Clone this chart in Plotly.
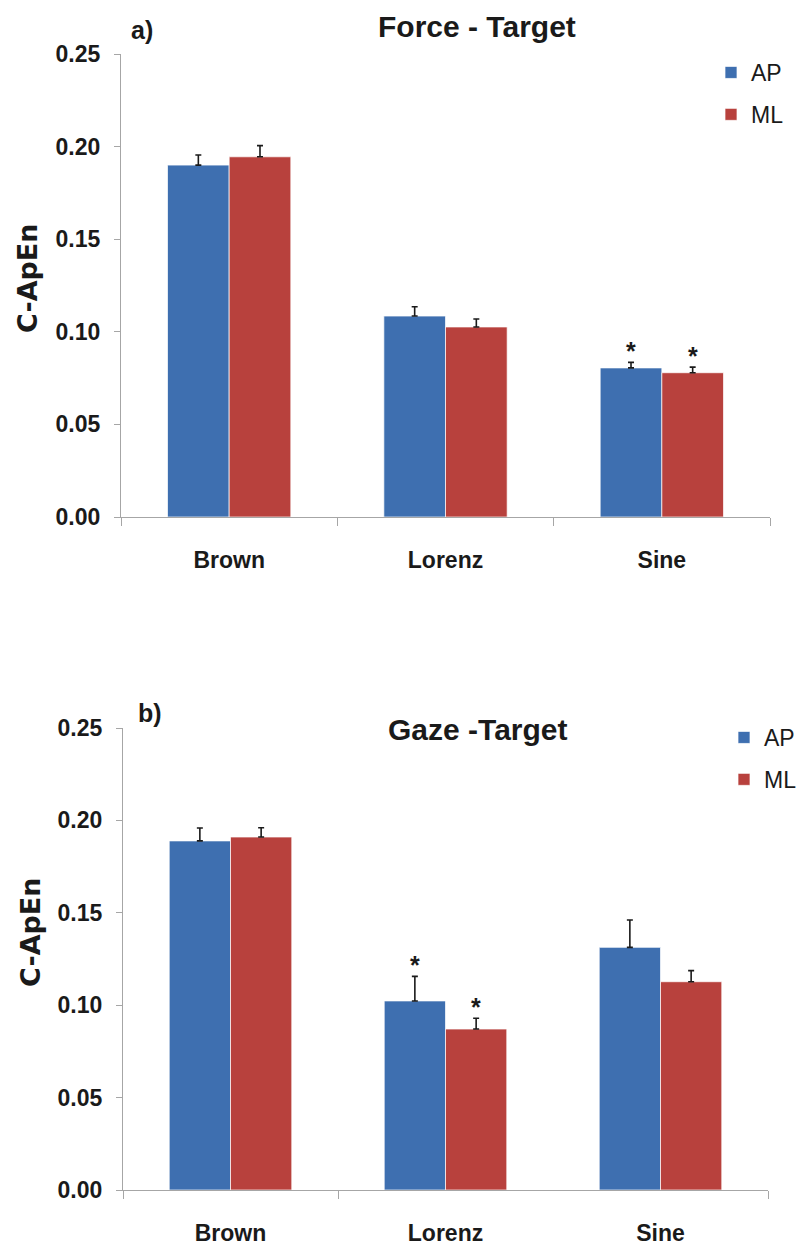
import plotly.graph_objects as go

categories = ["Brown", "Lorenz", "Sine"]

force_ap = [0.190, 0.1085, 0.0805]
force_ap_err = [0.0055, 0.005, 0.003]
force_ml = [0.1945, 0.1026, 0.0779]
force_ml_err = [0.006, 0.0043, 0.003]
force_ap_star = [False, False, True]
force_ml_star = [False, False, True]

gaze_ap = [0.1889, 0.1023, 0.1313]
gaze_ap_err = [0.007, 0.0133, 0.0148]
gaze_ml = [0.191, 0.0871, 0.1127]
gaze_ml_err = [0.005, 0.0058, 0.006]
gaze_ap_star = [False, True, False]
gaze_ml_star = [False, True, False]

yticks = [0.00, 0.05, 0.10, 0.15, 0.20, 0.25]

W, H = 799, 1249
BLUE = "#3e6fb0"
RED = "#b8413d"
FONT = "Liberation Sans, Arial, sans-serif"
WIDE = "DejaVu Sans, Arial, sans-serif"
BARGAP = 0.43
xs = list(range(len(categories)))

fig = go.Figure()

def add_panel(ap, ap_err, ml, ml_err, xa, ya, legend):
    for name, vals, errs, col, grp in [("AP", ap, ap_err, BLUE, "a"), ("ML", ml, ml_err, RED, "m")]:
        fig.add_trace(go.Bar(
            x=xs, y=vals, name=name, xaxis=xa, yaxis=ya, legend=legend,
            legendgroup=legend + grp,
            marker=dict(color=col, line=dict(color="rgba(255,255,255,0.7)", width=1)),
            error_y=dict(type="data", array=errs, symmetric=False,
                         arrayminus=[0] * len(errs), color="#1a1a1a",
                         thickness=1.6, width=3),
        ))

add_panel(force_ap, force_ap_err, force_ml, force_ml_err, "x", "y", "legend")
add_panel(gaze_ap, gaze_ap_err, gaze_ml, gaze_ml_err, "x2", "y2", "legend2")

half = (1 - BARGAP) / 4
annotations = []
for xa, ya, series in [("x", "y", [(force_ap, force_ap_err, force_ap_star, -half),
                                    (force_ml, force_ml_err, force_ml_star, half)]),
                       ("x2", "y2", [(gaze_ap, gaze_ap_err, gaze_ap_star, -half),
                                      (gaze_ml, gaze_ml_err, gaze_ml_star, half)])]:
    for vals, errs, stars, off in series:
        for i, (v, e, s) in enumerate(zip(vals, errs, stars)):
            if s:
                annotations.append(dict(x=i + off, y=v + e, xref=xa, yref=ya, text="*",
                                        showarrow=False, yanchor="middle", yshift=11,
                                        font=dict(family=FONT, size=25, color="#1a1a1a", weight="bold")))

def txt(x, y, t, size, family=FONT, bold=True, angle=0):
    annotations.append(dict(x=x / W, y=1 - y / H, xref="paper", yref="paper", text=t,
                            showarrow=False, xanchor="center", yanchor="middle",
                            textangle=angle,
                            font=dict(family=family, size=size, color="#1a1a1a",
                                      weight="bold" if bold else "normal")))

txt(477, 27, "Force - Target", 30)
txt(142, 30, "a)", 25)
txt(478, 729, "Gaze -Target", 30)
txt(150, 713, "b)", 25)
txt(27, 278, "C-ApEn", 27, family=WIDE, angle=-90)
txt(30, 932, "C-ApEn", 27, family=WIDE, angle=-90)

def xaxis(domain, anchor, bounds):
    return dict(domain=domain, anchor=anchor, range=[-0.5, len(categories) - 0.5],
                tickmode="array", tickvals=xs, ticktext=categories, ticks="",
                showline=True, linecolor="#a6a6a6", linewidth=1.3, automargin=False,
                showgrid=False, zeroline=False, fixedrange=True,
                ticklabelstandoff=22,
                tickfont=dict(family=FONT, size=23, color="#1a1a1a", weight="bold"),
                minor=dict(tickmode="array", tickvals=bounds, ticks="outside",
                           ticklen=8, tickcolor="#a6a6a6", tickwidth=1.3, showgrid=False))

def yaxis(domain, anchor):
    return dict(domain=domain, anchor=anchor, range=[0, 0.25], tickmode="array",
                tickvals=yticks, tickformat=".2f", ticks="outside", ticklen=6,
                tickcolor="#a6a6a6", tickwidth=1.3, showline=True, linecolor="#a6a6a6",
                linewidth=1.3, showgrid=False, zeroline=False, ticklabelstandoff=9,
                automargin=False, fixedrange=True,
                tickfont=dict(family=FONT, size=23, color="#1a1a1a", weight="bold"))

legend_common = dict(xref="container", yref="container", xanchor="left", yanchor="top",
                     bgcolor="rgba(0,0,0,0)", tracegroupgap=9, itemwidth=30,
                     font=dict(family=FONT, size=23, color="#1a1a1a"))

fig.update_layout(
    width=W, height=H, margin=dict(l=0, r=0, t=0, b=0, autoexpand=False),
    paper_bgcolor="white", plot_bgcolor="white",
    barmode="group", bargap=BARGAP, bargroupgap=0,
    showlegend=True,
    xaxis=xaxis([121 / W, 770 / W], "y", [-0.5, 0.5, 1.5, 2.5]),
    yaxis=yaxis([1 - 517 / H, 1 - 54 / H], "x"),
    xaxis2=xaxis([123 / W, 768 / W], "y2", [-0.5, 0.5, 2.5]),
    yaxis2=yaxis([1 - 1190 / H, 1 - 728 / H], "x2"),
    legend=dict(x=711 / W, y=1 - 51 / H, **legend_common),
    legend2=dict(x=724 / W, y=1 - 716 / H, **legend_common),
    annotations=annotations,
)

fig.write_html("out.html")
